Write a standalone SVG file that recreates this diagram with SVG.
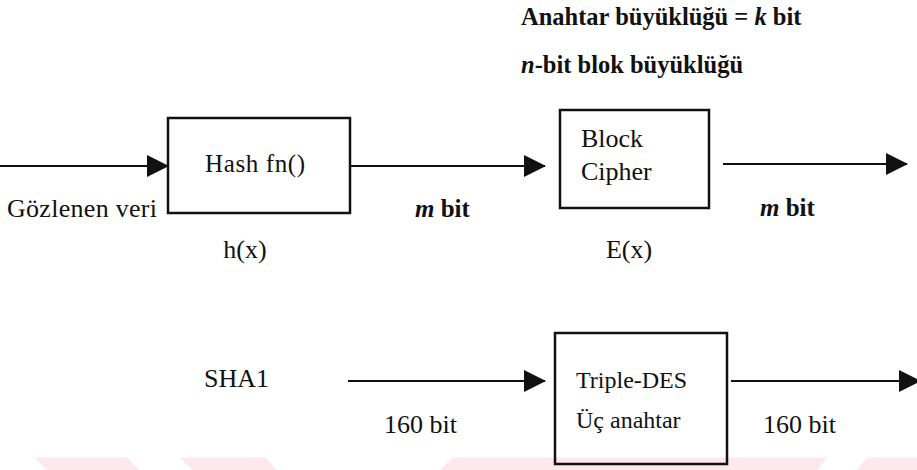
<svg xmlns="http://www.w3.org/2000/svg" width="917" height="470" viewBox="0 0 917 470">
<style>
text{font-family:'Liberation Serif','Times New Roman','Nimbus Roman','DejaVu Serif',serif;fill:#111}
.r{font-size:26px}
.b{font-size:24.5px;font-weight:bold}
.s{font-size:24px}
.box{fill:none;stroke:#111;stroke-width:2.5}
.ln{stroke:#111;stroke-width:2.2;fill:none;marker-end:url(#ah)}
.wm{fill:#fde8eb}
</style>
<defs>
<marker id="ah" markerUnits="userSpaceOnUse" markerWidth="22" markerHeight="22" refX="21" refY="11" orient="auto">
<path d="M0,0 L22,11 L0,22 Z" fill="#111"/>
</marker>
</defs>
<rect width="917" height="470" fill="#fff"/>
<g id="watermark">
<polygon class="wm" points="35,457.5 127,457.5 139,470 47,470"/>
<polygon class="wm" points="180,457.5 265,457.5 277,470 192,470"/>
<polygon class="wm" points="453,457.5 827,457.5 817,470 440,470"/>
<polygon class="wm" points="867,457.5 917,457.5 917,470 857,470"/>
</g>
<g id="labels-top" font-family="Liberation Serif, serif">
<text class="b" x="521" y="25">Anahtar büyüklüğü = <tspan font-style="italic">k</tspan> bit</text>
<text class="b" x="521" y="73"><tspan font-style="italic">n</tspan>-bit blok büyüklüğü</text>
</g>
<g id="connectors">
<line class="ln" x1="0" y1="166" x2="168" y2="166"/>
<line class="ln" x1="350" y1="166" x2="545" y2="166"/>
<line class="ln" x1="723" y1="164" x2="907" y2="164"/>
<line class="ln" x1="348" y1="381" x2="545" y2="381"/>
<line class="ln" x1="731" y1="381" x2="920" y2="381"/>
</g>
<g id="input">
<text class="r" x="7" y="217" textLength="150">Gözlenen veri</text>
</g>
<g id="hash">
<rect class="box" x="168" y="118" width="182" height="95"/>
<text class="r" x="255" y="172" text-anchor="middle" textLength="100" style="font-size:25px">Hash fn()</text>
<text class="r" x="245" y="258" text-anchor="middle">h(x)</text>
</g>
<g id="mbit1">
<text class="b" x="415" y="217" style="font-size:25px"><tspan font-style="italic">m</tspan> bit</text>
</g>
<g id="blockcipher">
<rect class="box" x="560" y="110" width="149" height="98"/>
<text class="r" x="581" y="147">Block</text>
<text class="r" x="581" y="180">Cipher</text>
<text class="r" x="629" y="258" text-anchor="middle">E(x)</text>
</g>
<g id="mbit2">
<text class="b" x="760" y="216" style="font-size:25px"><tspan font-style="italic">m</tspan> bit</text>
</g>
<g id="sha1">
<text class="r" x="204" y="387">SHA1</text>
</g>
<g id="bit160a">
<text class="r" x="384" y="433">160 bit</text>
</g>
<g id="tripledes">
<rect class="box" x="555" y="333" width="172" height="131"/>
<text class="s" x="576" y="388">Triple-DES</text>
<text class="s" x="576" y="428">Üç anahtar</text>
</g>
<g id="bit160b">
<text class="r" x="763" y="433">160 bit</text>
</g>
</svg>
